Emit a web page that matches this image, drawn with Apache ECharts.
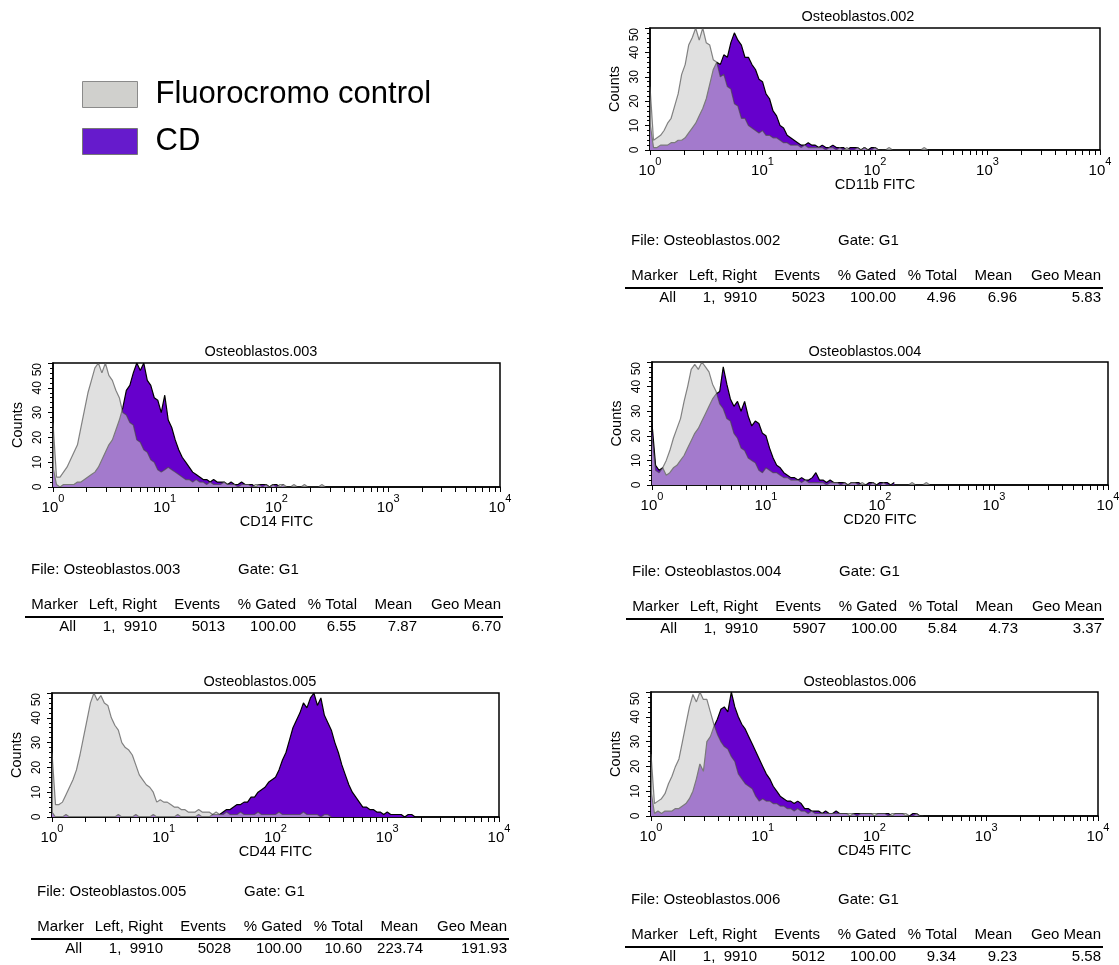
<!DOCTYPE html>
<html>
<head>
<meta charset="utf-8">
<script src="https://cdn.jsdelivr.net/npm/echarts@6/dist/echarts.min.js"></script>
<style>
html, body { margin: 0; padding: 0; background: #fff; }
#main { width: 1119px; height: 965px; }
</style>
</head>
<body>
<div id="main"></div>
<script>
// channels: 32 per decade, x axis runs 10^0 .. 10^4
var binsPerDecade = 32;
var decadeExp = ['0', '1', '2', '3', '4'];
var seriesNames = ['Fluorocromo control', 'CD'];
var sampleNames = ['Osteoblastos.002', 'Osteoblastos.003', 'Osteoblastos.004', 'Osteoblastos.005', 'Osteoblastos.006'];
var markerNames = ['CD11b FITC', 'CD14 FITC', 'CD20 FITC', 'CD44 FITC', 'CD45 FITC'];

// counts per channel
var control002 = [26,4,5,6,8,11,13,18,23,31,35,43,46,50,45,50,44,43,37,36,30,31,26,25,19,18,13,13,10,9,8,7,8,6,6,5,5,4,3,3,2,2,2,1,2,1,1,1,1,1,0,1,1,0,1,0,1,0,0,1,0,1,0,0,1,0,0,0,1,0,0,0,0,0,0,0,0,0,1,0];
var cd002 = [11,1,1,2,2,2,3,3,4,4,5,7,9,11,14,17,21,27,33,36,35,39,38,44,48,45,43,38,38,35,33,29,28,23,21,16,14,10,9,6,5,4,3,2,2,3,2,2,1,2,1,1,2,1,1,1,0,1,1,1,0,1,0,1,1,0,0];

var control003 = [26,4,4,6,8,11,14,17,24,31,38,43,48,50,46,50,45,43,39,36,30,29,26,25,19,18,15,14,11,10,7,6,7,8,7,6,5,4,3,3,2,3,2,2,1,2,1,1,1,2,1,1,1,0,1,1,1,0,1,1,0,1,0,1,0,1,1,0,0,1,0,0,1,0,0,0,0,1,0];
var cd003 = [8,1,0,1,1,1,1,2,2,3,4,5,6,8,11,14,17,19,23,27,32,39,41,46,50,47,50,43,41,36,35,30,37,27,24,19,15,12,10,8,6,5,4,3,3,2,3,2,2,2,1,2,1,1,2,1,1,1,0,1,1,1,0,1,1,0,1];

var control004 = [20,6,5,7,10,14,19,23,27,34,40,47,49,47,50,48,46,41,38,33,31,27,26,21,19,15,14,11,10,9,6,5,7,6,5,5,4,3,3,2,2,2,1,2,1,1,1,1,1,0,1,1,1,0,1,0,1,1,0,1,0,0,1,0,0,1,0,0,0,0,0,0,0,1,0,0,0,1,0];
var cd004 = [25,8,6,7,4,5,7,8,10,12,15,18,21,23,26,29,32,35,37,38,48,41,35,32,34,30,34,28,24,26,25,21,20,15,11,8,7,5,4,3,3,2,3,2,2,3,5,2,2,1,2,1,1,1,1,0,1,1,1,0,0,1,1,0,1,1,1,0,1];

var control005 = [26,5,5,6,9,12,15,19,25,32,39,46,50,47,49,46,45,40,37,35,30,28,27,25,21,17,15,13,12,10,6,7,6,6,5,4,4,3,3,2,2,2,3,2,2,2,1,2,1,1,2,1,1,1,2,1,1,1,1,2,1,1,1,1,1,2,1,1,1,1,1,1,2,1,1,1,1,0,1,1,0];
var cd005 = [2,0,0,0,1,0,0,0,0,0,0,0,0,0,0,0,0,0,0,1,0,0,0,0,1,0,0,0,0,1,0,0,0,0,0,0,1,0,0,0,0,0,1,0,0,0,1,
  1,1,2,3,3,4,5,5,6,6,8,8,10,11,12,14,15,16,19,23,26,31,36,39,42,46,44,48,50,45,48,41,38,35,30,26,21,17,13,10,8,6,4,4,3,3,2,2,1,2,1,1,1,1,0,1,1,0];

var control006 = [25,5,6,7,9,13,16,20,23,30,37,44,49,46,50,47,47,42,37,33,30,28,27,24,22,17,15,13,12,11,8,6,7,6,6,5,5,4,4,3,3,2,3,2,2,1,2,1,1,1,1,1,1,1,1,1,1,1,1,0,1,1,1,1,1,1,1,1,0,1,1,1,1,1,0,0,1,0,0];
var cd006 = [10,1,2,1,2,2,2,3,3,4,5,7,10,15,21,18,30,32,36,39,43,44,42,50,44,40,37,35,32,29,26,23,20,17,15,12,10,8,7,6,6,5,6,5,3,3,2,2,2,1,2,1,1,2,1,1,1,0,1,1,1,1,1,1,0,1,1,1,1,0,1,1,1,0,0,1,1,0];

var controls = [control002, control003, control004, control005, control006];
var cds = [cd002, cd003, cd004, cd005, cd006];

// statistics tables
var tableHead = ['Marker', 'Left, Right', 'Events', '% Gated', '% Total', 'Mean', 'Geo Mean'];
var stats002 = ['All', '1,  9910', '5023', '100.00', '4.96', '6.96', '5.83'];
var stats003 = ['All', '1,  9910', '5013', '100.00', '6.55', '7.87', '6.70'];
var stats004 = ['All', '1,  9910', '5907', '100.00', '5.84', '4.73', '3.37'];
var stats005 = ['All', '1,  9910', '5028', '100.00', '10.60', '223.74', '191.93'];
var stats006 = ['All', '1,  9910', '5012', '100.00', '9.34', '9.23', '5.58'];
var stats = [stats002, stats003, stats004, stats005, stats006];
var gateName = 'G1';

// layout (pixels)
var FONT = '"Liberation Sans", Arial, Helvetica, sans-serif';
var panels = [
  { grid: { left: 650, top: 28, width: 450, height: 122 }, titleX: 858, titleY: 17, tableX: 631, fileY: 241 },
  { grid: { left: 53, top: 363, width: 447, height: 124 }, titleX: 261, titleY: 352, tableX: 31, fileY: 570 },
  { grid: { left: 652, top: 362, width: 456, height: 123 }, titleX: 865, titleY: 352, tableX: 632, fileY: 572 },
  { grid: { left: 52, top: 693, width: 447, height: 124 }, titleX: 260, titleY: 682, tableX: 37, fileY: 892 },
  { grid: { left: 651, top: 692, width: 447, height: 124 }, titleX: 860, titleY: 682, tableX: 631, fileY: 900 }
];
var headRight = [47, 126, 189, 265, 326, 381, 470];
var valueRight = [45, 126, 194, 265, 325, 386, 470];

// log-decade ticks in channel units
var majorTicks = decadeExp.map(function (e, k) { return k * binsPerDecade; });
var allTicks = majorTicks.slice();
for (var d = 0; d < 4; d++) {
  for (var m = 2; m <= 9; m++) allTicks.push(binsPerDecade * (d + Math.log10(m)));
}

function txt(x, y, s, size, align) {
  return {
    type: 'text', x: x, y: y, silent: true,
    style: { text: s, fontSize: size, fontFamily: FONT, fill: '#000', align: align || 'left', verticalAlign: 'middle' }
  };
}

var grids = [], xAxes = [], yAxes = [], series = [], graphics = [];

panels.forEach(function (p, i) {
  grids.push({
    left: p.grid.left, top: p.grid.top, width: p.grid.width, height: p.grid.height,
    show: true, borderColor: '#000', borderWidth: 1.5, backgroundColor: '#fff',
    containLabel: false, outerBoundsMode: 'none'
  });
  xAxes.push({
    gridIndex: i, type: 'value', min: 0, max: 4 * binsPerDecade, interval: binsPerDecade, position: 'bottom',
    axisLine: { show: true, onZero: false, lineStyle: { color: '#000', width: 1.5 } },
    axisTick: { show: true, length: 5, customValues: allTicks, lineStyle: { color: '#000', width: 1 } },
    splitLine: { show: false },
    axisLabel: {
      margin: 6, color: '#000', fontFamily: FONT, customValues: majorTicks,
      formatter: function (v) { return '{b|10}{e|' + decadeExp[Math.round(v / binsPerDecade)] + '}'; },
      rich: {
        b: { fontSize: 15, fontFamily: FONT, color: '#000', lineHeight: 22, verticalAlign: 'bottom' },
        e: { fontSize: 11, fontFamily: FONT, color: '#000', verticalAlign: 'top' }
      }
    },
    name: markerNames[i], nameLocation: 'middle', nameGap: 27, nameMoveOverlap: false,
    nameTextStyle: { fontSize: 14.5, fontFamily: FONT, color: '#000' }
  });
  yAxes.push({
    gridIndex: i, type: 'value', min: 0, max: 50, interval: 10,
    axisLine: { show: true, onZero: false, lineStyle: { color: '#000', width: 1.5 } },
    axisTick: { show: true, length: 5, lineStyle: { color: '#000', width: 1 } },
    minorTick: { show: true, splitNumber: 5, length: 3, lineStyle: { color: '#000', width: 1 } },
    splitLine: { show: false }, minorSplitLine: { show: false },
    axisLabel: { rotate: 90, margin: 9, fontSize: 12, fontFamily: FONT, color: '#000', alignMaxLabel: 'right' },
    name: 'Counts', nameLocation: 'middle', nameGap: 28, nameRotate: 90, nameMoveOverlap: false,
    nameTextStyle: { fontSize: 14.5, fontFamily: FONT, color: '#000' }
  });

  series.push({
    name: 'CD', type: 'line', xAxisIndex: i, yAxisIndex: i, z: 2,
    data: cds[i].map(function (v, k) { return [k, v]; }),
    symbol: 'none', silent: true, animation: false,
    itemStyle: { color: '#6600cc' },
    lineStyle: { color: '#000', width: 1.2 },
    areaStyle: { color: '#6600cc', opacity: 1, origin: 'start' }
  });
  series.push({
    name: 'Fluorocromo control', type: 'line', xAxisIndex: i, yAxisIndex: i, z: 3,
    data: controls[i].map(function (v, k) { return [k, v]; }),
    symbol: 'none', silent: true, animation: false,
    itemStyle: { color: '#cccccc' },
    lineStyle: { color: 'rgba(70,70,70,0.65)', width: 1.2 },
    areaStyle: { color: '#cccccc', opacity: 0.6, origin: 'start' }
  });

  graphics.push(txt(p.titleX, p.titleY, sampleNames[i], 14.5, 'center'));
  graphics.push(txt(p.tableX, p.fileY, 'File: ' + sampleNames[i], 15));
  graphics.push(txt(p.tableX + 207, p.fileY, 'Gate: ' + gateName, 15));
  tableHead.forEach(function (h, c) {
    graphics.push(txt(p.tableX + headRight[c], p.fileY + 35, h, 15, 'right'));
  });
  graphics.push({
    type: 'line', silent: true,
    shape: { x1: p.tableX - 6, y1: p.fileY + 47, x2: p.tableX + 472, y2: p.fileY + 47 },
    style: { stroke: '#000', lineWidth: 2 }
  });
  stats[i].forEach(function (s, c) {
    graphics.push(txt(p.tableX + valueRight[c], p.fileY + 56.5, s, 15, 'right'));
  });
});

var chart = echarts.init(document.getElementById('main'), null, { renderer: 'canvas' });
chart.setOption({
  backgroundColor: '#fff',
  animation: false,
  legend: {
    orient: 'vertical', left: 82, top: 79, padding: 0,
    itemWidth: 55, itemHeight: 26, itemGap: 16, icon: 'rect', selectedMode: false,
    textStyle: { fontSize: 31, fontFamily: FONT, color: '#000', padding: [0, 0, 0, 13] },
    data: [
      { name: seriesNames[0], itemStyle: { color: '#d0d0cd', borderColor: '#8a8a8a', borderWidth: 1 } },
      { name: seriesNames[1], itemStyle: { color: '#661bcc', borderColor: '#777', borderWidth: 1 } }
    ]
  },
  grid: grids,
  xAxis: xAxes,
  yAxis: yAxes,
  series: series,
  graphic: graphics
});
</script>
</body>
</html>
